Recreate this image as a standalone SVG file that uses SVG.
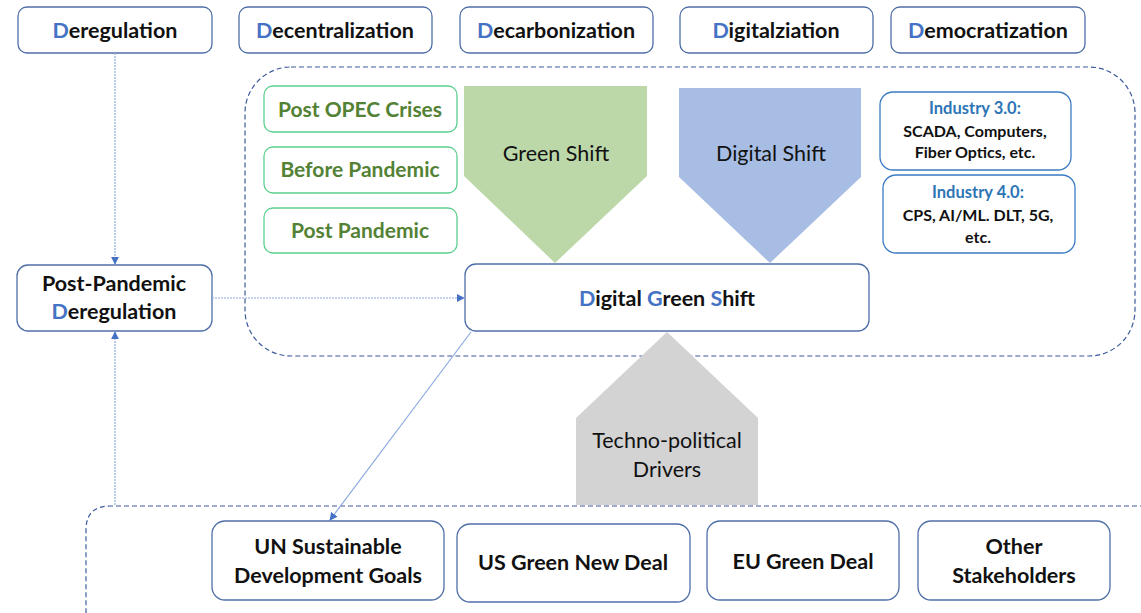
<svg xmlns="http://www.w3.org/2000/svg" width="1141" height="613" viewBox="0 0 1141 613">
<defs>
<style>
text{font-family:Lato,"Open Sans","Liberation Sans",sans-serif;text-anchor:middle;}
.b{fill:#fff;stroke:#4f6fa8;stroke-width:1.3;}
.g{fill:#fff;stroke:#5ccf8f;stroke-width:1.3;}
.i{fill:#fff;stroke:#3a7cc4;stroke-width:1.3;}
.t{font-weight:bold;font-size:21.5px;fill:#111;}
.gt{font-weight:bold;font-size:21px;fill:#548235;}
.it{font-weight:bold;font-size:16px;fill:#111;}
.ih{font-weight:bold;font-size:16.5px;fill:#2e75b6;}
.d{fill:#4472c4;}
.s{font-size:21.5px;fill:#111;}
.dash{fill:none;stroke:#3d5a9c;stroke-width:1.2;stroke-dasharray:5 3;}
.c{fill:none;stroke:#8eaadb;stroke-width:1.2;stroke-dasharray:2 1;}
</style>
<marker id="ah" viewBox="0 0 10 10" refX="9" refY="5" markerWidth="8" markerHeight="8" markerUnits="userSpaceOnUse" orient="auto">
<path d="M0,0 L10,5 L0,10 z" fill="#4472c4"/>
</marker>
</defs>

<g id="containers">
<rect class="dash" x="245" y="67" width="890" height="289" rx="46"/>
<path class="dash" d="M1145,506 H110 Q86,506 86,530 V613"/>
</g>

<g id="top-drivers">
<g id="deregulation"><rect class="b" x="18" y="7" width="194" height="46" rx="9"/><text class="t" x="115" y="38"><tspan class="d">D</tspan>eregulation</text></g>
<g id="decentralization"><rect class="b" x="239" y="7" width="193" height="46" rx="9"/><text class="t" x="335" y="38"><tspan class="d">D</tspan>ecentralization</text></g>
<g id="decarbonization"><rect class="b" x="460" y="7" width="193" height="46" rx="9"/><text class="t" x="556" y="38"><tspan class="d">D</tspan>ecarbonization</text></g>
<g id="digitalization"><rect class="b" x="680" y="7" width="193" height="46" rx="9"/><text class="t" x="776" y="38"><tspan class="d">D</tspan>igitalziation</text></g>
<g id="democratization"><rect class="b" x="891" y="7" width="194" height="46" rx="9"/><text class="t" x="988" y="38"><tspan class="d">D</tspan>emocratization</text></g>
</g>

<g id="periods">
<g id="post-opec"><rect class="g" x="264" y="86" width="193" height="46" rx="9"/><text class="gt" x="360" y="117">Post OPEC Crises</text></g>
<g id="before-pandemic"><rect class="g" x="264" y="147" width="193" height="46" rx="9"/><text class="gt" x="360" y="177">Before Pandemic</text></g>
<g id="post-pandemic"><rect class="g" x="264" y="208" width="193" height="45" rx="9"/><text class="gt" x="360" y="238">Post Pandemic</text></g>
</g>

<g id="green-shift"><path d="M464,86 H647 V176 L555,263 L464,176 z" fill="#bcd8a8"/><text class="s" x="556" y="161">Green Shift</text></g>
<g id="digital-shift"><path d="M679,88 H861 V177 L770,263 L679,177 z" fill="#a7bde3"/><text class="s" x="771" y="161">Digital Shift</text></g>

<g id="industry-3"><rect class="i" x="880" y="92" width="191" height="78" rx="13"/>
<text class="ih" x="975" y="114">Industry 3.0:</text>
<text class="it" x="975" y="137">SCADA, Computers,</text>
<text class="it" x="975" y="158">Fiber Optics, etc.</text></g>
<g id="industry-4"><rect class="i" x="883" y="175" width="192" height="78" rx="13"/>
<text class="ih" x="978" y="198">Industry 4.0:</text>
<text class="it" x="978" y="221">CPS, AI/ML. DLT, 5G,</text>
<text class="it" x="978" y="243">etc.</text></g>

<g id="techno-political"><path d="M667,332 L758,418 V505 H576 V418 z" fill="#d3d3d3"/>
<text class="s" x="667" y="448">Techno-political</text>
<text class="s" x="667" y="477">Drivers</text></g>

<g id="digital-green-shift"><rect class="b" x="465" y="264" width="404" height="67" rx="11"/>
<text class="t" x="667" y="306"><tspan class="d">D</tspan>igital <tspan class="d">G</tspan>reen <tspan class="d">S</tspan>hift</text></g>

<g id="post-pandemic-deregulation"><rect class="b" x="17" y="265" width="195" height="66" rx="11"/>
<text class="t" x="114" y="291">Post-Pandemic</text>
<text class="t" x="114" y="319"><tspan class="d">D</tspan>eregulation</text></g>

<g id="stakeholders">
<g id="un-sdg"><rect class="b" x="212" y="521" width="232" height="79" rx="13"/><text class="t" x="328" y="554">UN Sustainable</text><text class="t" x="328" y="583">Development Goals</text></g>
<g id="us-gnd"><rect class="b" x="457" y="524" width="233" height="78" rx="13"/><text class="t" x="573" y="570">US Green New Deal</text></g>
<g id="eu-gd"><rect class="b" x="707" y="521" width="192" height="79" rx="13"/><text class="t" x="803" y="569">EU Green Deal</text></g>
<g id="other"><rect class="b" x="918" y="521" width="192" height="79" rx="13"/><text class="t" x="1014" y="554">Other</text><text class="t" x="1014" y="583">Stakeholders</text></g>
</g>

<g id="connectors">
<line class="c" x1="115" y1="53" x2="115" y2="264" marker-end="url(#ah)"/>
<line class="c" x1="115" y1="505" x2="115" y2="332" marker-end="url(#ah)"/>
<line class="c" x1="212" y1="298" x2="464" y2="298" marker-end="url(#ah)"/>
<line x1="471" y1="332" x2="330" y2="520" stroke="#8eaadb" stroke-width="1.2" marker-end="url(#ah)"/>
</g>
</svg>
